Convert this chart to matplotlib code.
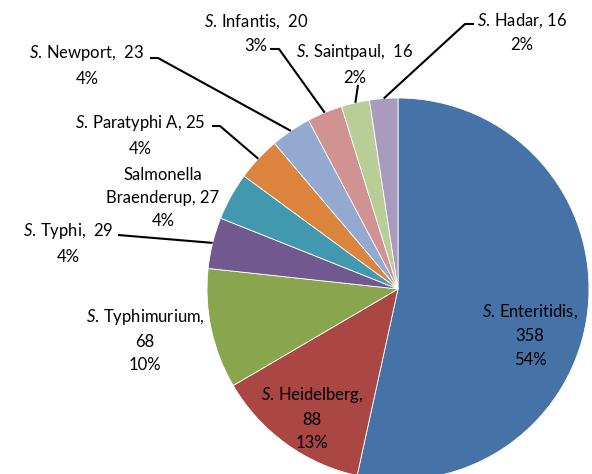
import matplotlib.pyplot as plt
import numpy as np

plt.rcParams["font.family"] = ["Lato", "DejaVu Sans"]
plt.rcParams["mathtext.fontset"] = "custom"
plt.rcParams["mathtext.it"] = "Lato:italic"
plt.rcParams["mathtext.rm"] = "Lato"

names = ["Enteritidis", "Heidelberg", "Typhimurium", "Typhi", "Braenderup",
         "Paratyphi A", "Newport", "Infantis", "Saintpaul", "Hadar"]
counts = [358, 88, 68, 29, 27, 25, 23, 20, 16, 16]
pcts = ["54%", "13%", "10%", "4%", "4%", "4%", "4%", "3%", "2%", "2%"]
colors = ["#4572A7", "#AA4643", "#89A54E", "#71588F", "#4198AF",
          "#DB843D", "#93A9CF", "#D19392", "#B9CD96", "#A99BBD"]

S = r"$\it{S.}$" + "\u2009"
labels = [
    f"{S}Enteritidis,\n{counts[0]}\n{pcts[0]}",
    f"{S}Heidelberg,\n{counts[1]}\n{pcts[1]}",
    f"{S}Typhimurium,\n{counts[2]}\n{pcts[2]}",
    f"{S}Typhi,  {counts[3]}\n{pcts[3]}",
    f"Salmonella\nBraenderup, {counts[4]}\n{pcts[4]}",
    f"{S}Paratyphi A, {counts[5]}\n{pcts[5]}",
    f"{S}Newport,  {counts[6]}\n{pcts[6]}",
    f"{S}Infantis,  {counts[7]}\n{pcts[7]}",
    f"{S}Saintpaul,  {counts[8]}\n{pcts[8]}",
    f"{S}Hadar, {counts[9]}\n{pcts[9]}",
]

# layout in pixel coordinates (y measured from top)
W, H = 592, 474
cx, cy, r = 398, 289, 191
label_xy = [(530, 335), (312, 418), (145, 340), (68, 243), (163, 198),
            (140, 135), (87, 65), (256, 33), (355, 64), (522, 32)]
# leader line anchor near the text (None = no leader)
leader_start = [None, None, None, (118, 235), None,
                (212, 126), (150, 58), (270, 49), (358, 85), (474, 24)]
leader_knee = [None, None, None, None, None,
               (220, 126), (158, 58), (279, 49), None, (465, 24)]

fig = plt.figure(figsize=(W / 100, H / 100), dpi=100)
ax = fig.add_axes([0, 0, 1, 1])

wedges, _ = ax.pie(counts, colors=colors, startangle=90, counterclock=False,
                   center=(cx, H - cy), radius=r,
                   wedgeprops=dict(edgecolor="white", linewidth=0.6))
ax.set_xlim(0, W)
ax.set_ylim(0, H)
ax.set_aspect("equal")
ax.axis("off")

for i, w in enumerate(wedges):
    x, y = label_xy[i]
    ax.text(x, H - y, labels[i], ha="center", va="center", fontsize=12,
            linespacing=1.55, color="black")
    if leader_start[i] is not None:
        mid = np.deg2rad((w.theta1 + w.theta2) / 2)
        ex = cx + r * np.cos(mid)
        ey = H - cy + r * np.sin(mid)
        pts = [leader_start[i]]
        if leader_knee[i] is not None:
            pts.append(leader_knee[i])
        xs = [p[0] for p in pts] + [ex]
        ys = [H - p[1] for p in pts] + [ey]
        ax.plot(xs, ys, color="black", linewidth=1.5, solid_capstyle="butt")

fig.savefig("out.png", dpi=100)
